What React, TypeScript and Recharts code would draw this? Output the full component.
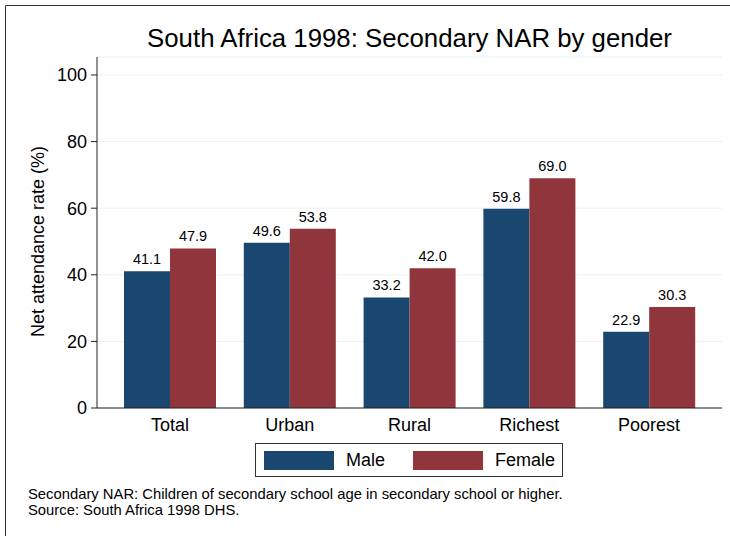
import { BarChart, Bar, XAxis, YAxis, CartesianGrid, LabelList, Legend } from "recharts";

const categories = ["Total", "Urban", "Rural", "Richest", "Poorest"];
const maleValues = [41.1, 49.6, 33.2, 59.8, 22.9];
const femaleValues = [47.9, 53.8, 42.0, 69.0, 30.3];
const yTicks = [0, 20, 40, 60, 80, 100];
const seriesNames = ["Male", "Female"];

const title = "South Africa 1998: Secondary NAR by gender";
const yTitle = "Net attendance rate (%)";
const notes = [
  "Secondary NAR: Children of secondary school age in secondary school or higher.",
  "Source: South Africa 1998 DHS.",
];

const MALE = "#1a476f";
const FEMALE = "#90353b";
const FONT = "'Liberation Sans', Arial, Helvetica, sans-serif";

const data = categories.map((name, i) => ({
  name,
  male: maleValues[i],
  female: femaleValues[i],
}));

function LegendBox({ payload }: any) {
  // keep series order (recharts sorts legend items by name)
  const items = [...(payload || [])].sort(
    (a: any, b: any) => seriesNames.indexOf(a.value) - seriesNames.indexOf(b.value)
  );
  return (
    <div
      style={{
        boxSizing: "border-box",
        width: 308,
        height: 34,
        border: "1px solid #333",
        background: "#fff",
        display: "flex",
        alignItems: "center",
        fontFamily: FONT,
        fontSize: 18,
        color: "#000",
      }}
    >
      {items.map((p: any, i: number) => (
        <div
          key={p.value}
          style={{ display: "flex", alignItems: "center", marginLeft: i === 0 ? 8 : 28 }}
        >
          <span style={{ display: "inline-block", width: 70, height: 19, background: p.color }} />
          <span style={{ marginLeft: 12 }}>{p.value}</span>
        </div>
      ))}
    </div>
  );
}

export default function App() {
  return (
    <div style={{ position: "absolute", left: 0, top: 0, width: 730, height: 536, background: "#fff" }}>
      <BarChart
        width={730}
        height={536}
        data={data}
        margin={{ top: 57, right: 8, left: 0, bottom: 98 }}
        barCategoryGap={14}
        barGap={0}
      >
        <CartesianGrid vertical={false} stroke="#eaf2f3" strokeWidth={1} />
        <XAxis
          dataKey="name"
          height={30}
          padding={{ left: 13, right: 13 }}
          tickLine={false}
          axisLine={{ stroke: "#222" }}
          tickMargin={4}
          tick={{ fill: "#000", fontSize: 18, fontFamily: FONT }}
        />
        <YAxis
          width={97}
          domain={[0, 105.4]}
          ticks={yTicks}
          allowDataOverflow
          axisLine={{ stroke: "#222" }}
          tickLine={{ stroke: "#222" }}
          tickSize={6}
          tickMargin={4}
          tick={{ fill: "#000", fontSize: 18, fontFamily: FONT }}
        />
        <Legend
          layout="vertical"
          align="center"
          verticalAlign="middle"
          content={LegendBox}
          wrapperStyle={{ position: "absolute", left: 255, top: 443, width: 308, height: 34 }}
        />
        <Bar dataKey="male" name="Male" fill={MALE} isAnimationActive={false}>
          <LabelList
            dataKey="male"
            position="top"
            offset={7}
            formatter={(v: any) => Number(v).toFixed(1)}
            style={{ fill: "#000", fontSize: 14.5, fontFamily: FONT }}
          />
        </Bar>
        <Bar dataKey="female" name="Female" fill={FEMALE} isAnimationActive={false}>
          <LabelList
            dataKey="female"
            position="top"
            offset={7}
            formatter={(v: any) => Number(v).toFixed(1)}
            style={{ fill: "#000", fontSize: 14.5, fontFamily: FONT }}
          />
        </Bar>
      </BarChart>
      <svg
        width={730}
        height={536}
        style={{ position: "absolute", left: 0, top: 0, pointerEvents: "none" }}
      >
        <line x1={5.5} y1={5.5} x2={730} y2={5.5} stroke="#333" />
        <line x1={5.5} y1={5.5} x2={5.5} y2={536} stroke="#333" />
        <text x={409.5} y={47} textAnchor="middle" fontSize={25.8} fontFamily={FONT} fill="#000">
          {title}
        </text>
        <text
          transform="translate(43.5,241.5) rotate(-90)"
          textAnchor="middle"
          fontSize={18}
          fontFamily={FONT}
          fill="#000"
        >
          {yTitle}
        </text>
        {notes.map((n, i) => (
          <text key={i} x={28} y={499 + i * 16} fontSize={14.8} fontFamily={FONT} fill="#000">
            {n}
          </text>
        ))}
      </svg>
    </div>
  );
}
